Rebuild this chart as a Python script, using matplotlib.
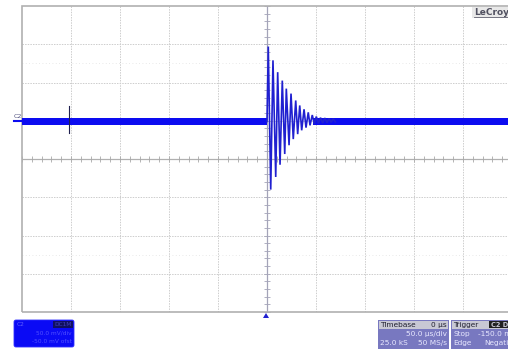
import matplotlib
matplotlib.use("Agg")
import matplotlib.pyplot as plt
from matplotlib.patches import Rectangle, FancyBboxPatch, Polygon

# ---------------- data (time in us, amplitude in divisions) ----------------
time_range = [-250.0, 250.0]
baseline_level = 0.98
noise_halfwidth = 0.085
baseline_segments = [(-250.0, 0.0), (47.0, 250.0)]

ring_peak_t = [1.3, 6.1, 10.9, 15.6, 19.7, 24.5, 29.3, 33.4, 37.8, 42.1, 46.2, 50.3, 54.6, 59.0, 63.3, 67.6]
ring_peak_v = [2.94, 2.58, 2.27, 2.05, 1.84, 1.71, 1.53, 1.40, 1.30, 1.22, 1.15, 1.11, 1.08, 1.07, 1.06, 1.05]
ring_trough_t = [3.8, 8.9, 13.3, 18.1, 22.5, 26.8, 31.3, 35.4, 39.8, 43.9, 48.3, 52.5, 56.8, 61.2, 65.5, 69.8]
ring_trough_v = [-0.80, -0.47, -0.15, 0.13, 0.36, 0.52, 0.65, 0.75, 0.82, 0.88, 0.91, 0.93, 0.94, 0.95, 0.96, 0.97]

marker_t = -202.0
marker_v = [0.68, 1.39]

timebase_rows = [("Timebase", "0 µs"), ("", "50.0 µs/div"), ("25.0 kS", "50 MS/s")]
trigger_rows = [("Trigger", ""), ("Stop", "-150.0 mV"), ("Edge", "Negative")]
trigger_badge = "C2 DC"
channel_rows = [("C2", "DC1M"), ("", "50.0 mV/div"), ("", "-50.0 mV ofst")]

# ---------------- figure ----------------
W, H = 508, 350
fig = plt.figure(figsize=(W / 100, H / 100), dpi=100)
fig.patch.set_facecolor("white")

left, right, top, bottom = 22, 512, 6, 312
ax = fig.add_axes([left / W, 1 - bottom / H, (right - left) / W, (bottom - top) / H])
ax.set_xlim(*time_range)
ax.set_ylim(-4, 4)
ax.axis("off")

grid_c = "#cdcdcd"
for k in range(-4, 5):
    if k != 0:
        ax.axvline(k * 50, color=grid_c, lw=0.7, ls=(0, (1.5, 1.2)), zorder=1)
for k in range(-3, 4):
    if k != 0:
        ax.axhline(k, color=grid_c, lw=0.7, ls=(0, (1.5, 1.2)), zorder=1)
# faint dotted rows
for yv in (-2.5, 2.5):
    ax.axhline(yv, color="#e2e2e2", lw=0.6, ls=(0, (1, 3)), zorder=1)
# center cross
ax.axhline(0, color="#b0b0b0", lw=0.9, zorder=1)
ax.axvline(0, color="#a4a4b8", lw=0.9, zorder=1)
xt = [k * 10 for k in range(-25, 26)]
ax.plot(xt, [0] * len(xt), ls="none", marker="|", ms=4, mew=0.6, color="#a8a8a8", zorder=1)
yt = [k * 0.2 for k in range(-20, 21)]
ax.plot([0] * len(yt), yt, ls="none", marker="_", ms=4, mew=0.6, color="#a4a4b8", zorder=1)
# border
ax.add_patch(Rectangle((-250, -4), 500, 8, fill=False, ec="#b0b0b0", lw=1.2, zorder=2, clip_on=False))

# ---------------- trace ----------------
trace_c = "#0c0cf0"
for a, b in baseline_segments:
    ax.fill_between([a, b], baseline_level - noise_halfwidth, baseline_level + noise_halfwidth,
                    color=trace_c, lw=0, zorder=3)
rt = [0.0]
rv = [baseline_level]
for i in range(len(ring_peak_t)):
    rt.append(ring_peak_t[i]); rv.append(ring_peak_v[i])
    if i < len(ring_trough_t):
        rt.append(ring_trough_t[i]); rv.append(ring_trough_v[i])
ax.plot(rt, rv, color="#2020d0", lw=1.2, zorder=4, solid_joinstyle="miter")
ax.plot([marker_t, marker_t], marker_v, color="#202050", lw=0.8, zorder=5)

# ---------------- overlay (pixel coords) ----------------
ov = fig.add_axes([0, 0, 1, 1])
ov.set_xlim(0, W)
ov.set_ylim(H, 0)
ov.axis("off")
ov.patch.set_alpha(0)

# LeCroy logo
ov.add_patch(Rectangle((472, 7), 40, 11, color="#e8e8e8", lw=0))
ov.text(474, 12.5, "LeCroy", fontsize=6.5, color="#505060", va="center", ha="left",
        fontweight="bold")
ov.plot([474, 508], [17, 17], color="#606070", lw=0.6)

# C2 level marker
ov.text(14, 117, "C2", fontsize=4.5, color="#505080", va="center", ha="left")
ov.plot([14, 22], [121, 121], color=trace_c, lw=1.5)

# trigger arrow
ov.add_patch(Polygon([[263, 318], [269, 318], [266, 313]], closed=True, color="#2020d0", lw=0))

# channel box
ov.add_patch(FancyBboxPatch((14, 320), 60, 27, boxstyle="round,pad=0,rounding_size=2",
                            fc="#0a0af5", ec="#3030ff", lw=0.6))
ov.add_patch(Rectangle((53, 321), 20, 7, color="#101060", lw=0))
ov.text(17, 324.5, channel_rows[0][0], fontsize=4.2, color="#6060ff", va="center")
ov.text(72, 324.5, channel_rows[0][1], fontsize=4.2, color="#4040c0", va="center", ha="right")
ov.text(72, 333, channel_rows[1][1], fontsize=4.2, color="#5050ff", va="center", ha="right")
ov.text(72, 341.5, channel_rows[2][1], fontsize=4.2, color="#5050ff", va="center", ha="right")

# timebase / trigger boxes
def info_box(x0, w, rows):
    ov.add_patch(Rectangle((x0, 320), w, 29, color="#7878c0", lw=0))
    ov.add_patch(Rectangle((x0 + 1, 321), w - 2, 7.5, color="#c8c8d4", lw=0))
    ov.text(x0 + 2, 324.8, rows[0][0], fontsize=5.3, color="#202030", va="center")
    if rows[0][1]:
        ov.text(x0 + w - 2, 324.8, rows[0][1], fontsize=5.3, color="#202030", va="center", ha="right")
    for i, (l, r) in enumerate(rows[1:]):
        yy = 334 + i * 9
        if l:
            ov.text(x0 + 2, yy, l, fontsize=5.3, color="#e8e8ff", va="center")
        ov.text(x0 + w - 2, yy, r, fontsize=5.3, color="#e8e8ff", va="center", ha="right")

info_box(378, 71, timebase_rows)
info_box(451, 68, trigger_rows)
ov.add_patch(Rectangle((489, 321), 20, 7, color="#202020", lw=0))
ov.text(491, 324.8, trigger_badge, fontsize=4.8, color="#c8c8d4", va="center", fontweight="bold")

fig.savefig("out.png", dpi=100)
